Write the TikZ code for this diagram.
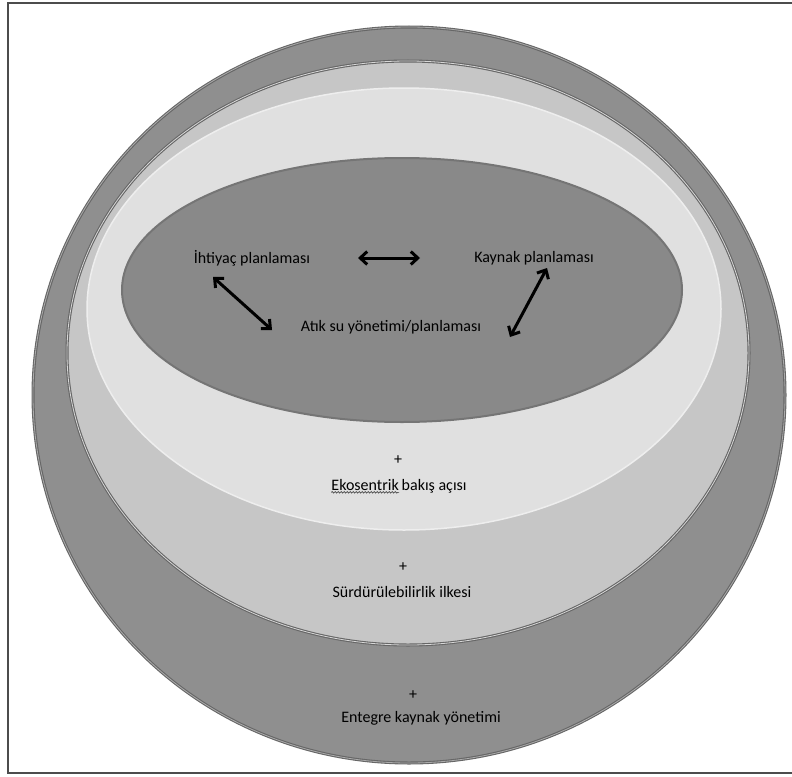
\documentclass[tikz,border=0pt]{standalone}
\usepackage{fontspec}
\setmainfont{Carlito}
\usetikzlibrary{arrows.meta,positioning,decorations.pathmorphing}
\definecolor{disgri}{HTML}{8F8F8F}
\definecolor{ortagri}{HTML}{C6C6C6}
\definecolor{acikgri}{HTML}{E0E0E0}
\definecolor{icgri}{HTML}{898989}
\definecolor{cizgi}{HTML}{666666}
\begin{document}
\begin{tikzpicture}[x=1pt, y=-1pt, font=\fontsize{16}{19}\selectfont,
    halka/.style={draw=cizgi, line width=1.1pt, double distance=0.8pt},
    etiket/.style={inner sep=0pt, text=black},
    okcift/.style={{Straight Barb[length=7pt,width=13pt]}-{Straight Barb[length=7pt,width=13pt]}, line width=3pt}]
  \useasboundingbox (0,0) rectangle (792,776);
  % cerceve
  \draw [black!70, line width=1.8pt] (792,3) -- (8,3) -- (8,773) -- (792,773);
  % halkalar
  \draw [halka, fill=disgri, double=disgri!75!white] (409,395) ellipse [x radius=376, y radius=368];
  \draw [halka, fill=ortagri, double=ortagri!70!white] (408,353) ellipse [x radius=341, y radius=292];
  \draw [draw=acikgri!55!white, line width=1.5pt, fill=acikgri] (404,309) ellipse [x radius=317, y radius=221];
  \draw [draw=cizgi!90!white, line width=2pt, fill=icgri] (402,290) ellipse [x radius=280, y radius=132];

  % ic elips
  \node [etiket] (ihtiyac) at (252,258) {İhtiyaç planlaması};
  \node [etiket] (kaynak) at (534,258) {Kaynak planlaması};
  \node [etiket] (atik) at (391,327) {Atık su yönetimi/planlaması};
  \coordinate (y1) at (358,258);
  \coordinate (y2) at (420,258);
  \coordinate (s1) at (213,277);
  \coordinate (s2) at (272,330);
  \coordinate (r1) at (547,268);
  \coordinate (r2) at (510,337);
  \draw [okcift] (y1) -- (y2);
  \draw [okcift] (s1) -- (s2);
  \draw [okcift] (r1) -- (r2);

  % alt katmanlar
  \node [etiket] (arti1) at (398,460) {+};
  \node [etiket, anchor=base east] (ekoA) at (399,490) {Ekosentrik};
  \node [etiket, right=0.25em of ekoA.base east, anchor=base west] (ekoB) {bakış açısı};
  \draw [black!75, line width=0.6pt, decorate, decoration={snake, amplitude=0.8pt, segment length=3pt}]
    ([yshift=-2pt]ekoA.south west) -- ([yshift=-2pt]ekoA.south east);
  \node [etiket] (arti2) at (403,567) {+};
  \node [etiket] (surd) at (402,592) {Sürdürülebilirlik ilkesi};
  \node [etiket] (arti3) at (413,695) {+};
  \node [etiket] (entegre) at (421,718) {Entegre kaynak yönetimi};
\end{tikzpicture}
\end{document}
